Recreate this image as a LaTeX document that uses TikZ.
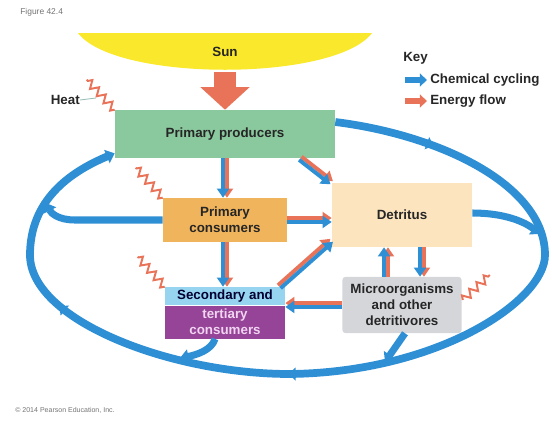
\documentclass[tikz,border=0pt]{standalone}
\usepackage{fontspec}
\setmainfont{Liberation Sans}
\usetikzlibrary{calc}
\usetikzlibrary{positioning}
\usetikzlibrary{arrows.meta}
\usetikzlibrary{decorations.markings}
\usetikzlibrary{decorations.pathmorphing}

\definecolor{cyclblue}{RGB}{47,143,213}
\definecolor{energyred}{RGB}{232,115,88}
\definecolor{sunyellow}{RGB}{250,232,45}
\definecolor{prodgreen}{RGB}{138,200,158}
\definecolor{consorange}{RGB}{240,180,92}
\definecolor{detrpeach}{RGB}{252,228,190}
\definecolor{seclight}{RGB}{150,212,240}
\definecolor{secpurple}{RGB}{150,68,152}
\definecolor{microgray}{RGB}{212,214,218}
\definecolor{heattick}{RGB}{150,190,180}

\newcommand{\lblfont}{\fontsize{9.5}{11.5}\selectfont\bfseries}

% blue + orange arrow side by side, #3 = side of the orange one
\newcommand{\duoflow}[3]{%
  \pgfmathsetmacro{\duoback}{-1*(#3)}%
  \draw[energyline] ($(#1)!1.4pt!#3:(#2)$) -- ($(#2)!1.4pt!\duoback:(#1)$);
  \draw[cycleline] ($(#1)!1.4pt!\duoback:(#2)$) -- ($(#2)!1.4pt!#3:(#1)$);
}

\begin{document}
\begin{tikzpicture}[x=0.025cm, y=-0.025cm,
    box/.style={inner sep=0pt, align=center, font=\lblfont, text=black!85},
    energyline/.style={draw=energyred, line width=2.8pt, -{Triangle[length=6.5pt,width=8.5pt]}},
    cycleline/.style={draw=cyclblue, line width=2.8pt, -{Triangle[length=6.5pt,width=8.5pt]}},
    energybig/.style={draw=energyred, line width=15pt, -{Triangle[length=16pt,width=34pt]}},
    cycleloop/.style={draw=cyclblue, line width=5.5pt, -{Triangle[length=6pt,width=10pt]},
      postaction={decorate},
      decoration={markings,
        mark=at position 0.10 with {\arrow{Triangle[length=5pt,width=9pt]}},
        mark=at position 0.56 with {\arrow{Triangle[length=5pt,width=9pt]}},
        mark=at position 0.80 with {\arrow{Triangle[length=5pt,width=9pt]}}}},
    branch/.style={draw=cyclblue, line width=5pt, -{Triangle[length=6pt,width=10pt]}},
    heatline/.style={draw=energyred, line width=1.4pt, decorate,
      decoration={zigzag, segment length=7pt, amplitude=2.8pt}},
    smalltext/.style={inner sep=0pt, anchor=west, text=black!55}]

  \useasboundingbox (0,0) rectangle (552,422);

  % Labels
  \node[smalltext, font=\fontsize{6}{7}\selectfont] (figlabel) at (20,12) {Figure 42.4};
  \node[smalltext, font=\fontsize{5}{6}\selectfont] (copyr) at (15,410) {© 2014 Pearson Education, Inc.};

  % Sun
  \fill[sunyellow] (78,33) .. controls (115,82) and (335,82) .. (372,33) -- cycle;
  \node[box] (sun) at (225,52) {Sun};

  % Boxes
  \node[box, fill=prodgreen, minimum width=5.5cm, minimum height=1.2cm] (prod) at (225,134) {Primary producers};
  \node[box, fill=consorange, minimum width=3.1cm, minimum height=1.1cm] (cons1) at (225,220) {Primary\\consumers};
  \node[box, fill=detrpeach, minimum width=3.5cm, minimum height=1.6cm] (detr) at (402,215) {Detritus};
  \node[box, fill=seclight, text=black!80!blue, minimum width=3cm, minimum height=0.45cm] (secA) at (225,296) {Secondary and};
  \node[box, fill=secpurple, text={rgb,255:red,240;green,212;blue,240}, minimum width=3cm, minimum height=0.825cm, below=0pt of secA] (secB) {tertiary\\consumers};
  \node[box, fill=microgray, rounded corners=2pt, minimum width=2.975cm, minimum height=1.4cm] (micro) at (402,305) {Microorganisms\\and other\\detritivores};

  % Sun energy
  \draw[energybig] ($(sun.center)+(0,20)$) -- (prod.north);

  % Chemical cycling loop
  \draw[cycleloop] ($(prod.east)+(0,-12)$) .. controls (440,135) and (545,185) .. (545,255)
    .. controls (545,300) and (440,372) .. (290,374)
    .. controls (170,374) and (30,320) .. (30,255)
    .. controls (30,200) and (70,172) .. ($(prod.south west)+(0,-5)$);

  % Branches into the loop
  \coordinate (jl) at (46,203);
  \coordinate (jr) at (540,234);
  \coordinate (jb1) at (180,358);
  \coordinate (jb2) at (385,362);
  \draw[branch] (cons1.west) -- (75,220) .. controls (58,220) and (51,213) .. (jl);
  \draw[branch] ($(detr.east)+(0,-2)$) .. controls (505,213) and (525,222) .. (jr);
  \draw[branch] ($(secB.south)+(-10,0)$) .. controls (212,350) and (196,355) .. (jb1);
  \draw[branch] ($(micro.south)+(3,0)$) -- (jb2);

  % Flows between boxes
  \coordinate (pd1) at ($(prod.south east)+(-35,0)$);
  \coordinate (cd2) at (cons1.east -| detr.west);
  \coordinate (sd1) at ($(secA.north east)+(-6,0)$);
  \coordinate (sd2) at ($(detr.south west)+(0,-7)$);
  \coordinate (ms2) at (micro.west -| secA.east);
  \coordinate (mu1) at ($(micro.north)+(-16,0)$);
  \coordinate (mu2) at (mu1 |- detr.south);
  \coordinate (md1) at ($(detr.south)+(20,0)$);
  \coordinate (md2) at (md1 |- micro.north);
  \duoflow{prod.south}{cons1.north}{90}
  \duoflow{pd1}{detr.north west}{90}
  \duoflow{cons1.east}{cd2}{90}
  \duoflow{cons1.south}{secA.north}{90}
  \duoflow{sd1}{sd2}{90}
  \duoflow{micro.west}{ms2}{-90}
  \duoflow{mu1}{mu2}{-90}
  \duoflow{md1}{md2}{90}

  % Heat
  \node[box, anchor=east] (heat) at (80,100) {Heat};
  \coordinate (heatz) at (96,98);
  \draw[heattick, line width=0.6pt] (heat.east) -- (heatz);
  \draw[heatline] (prod.north west) -- ++(-28,-30);
  \draw[heatline] (cons1.north west) -- ++(-27,-30);
  \draw[heatline] (secA.north west) -- ++(-27,-30);
  \draw[heatline] ($(micro.east)+(1,-5)$) -- ++(27,-25);

  % Key
  \node[box, anchor=west] (key) at (403,58) {Key};
  \node[box, anchor=west] (chem) at (430,80) {Chemical cycling};
  \node[box, anchor=west] (enrg) at (430,101) {Energy flow};
  \draw[cyclblue, line width=4.5pt, -{Triangle[length=5pt,width=9pt]}] ($(chem.west)+(-25,0)$) -- ($(chem.west)+(-3,0)$);
  \draw[energyred, line width=4.5pt, -{Triangle[length=5pt,width=9pt]}] ($(enrg.west)+(-25,0)$) -- ($(enrg.west)+(-3,0)$);
\end{tikzpicture}
\end{document}
